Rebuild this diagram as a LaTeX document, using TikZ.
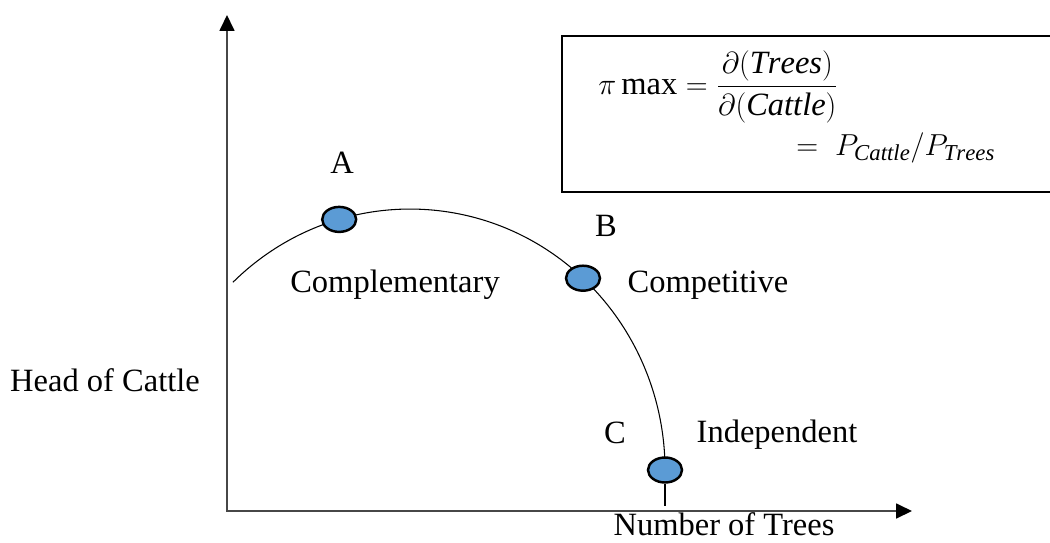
\documentclass[tikz,border=0pt]{standalone}
\usepackage{amsmath}
\usepackage{fontspec}
\setmainfont{Liberation Serif}
\usetikzlibrary{arrows.meta,shapes.geometric}
\definecolor{dotblue}{HTML}{5B9BD5}

\begin{document}
\begin{tikzpicture}[
  x=0.02cm, y=0.02cm,
  font=\fontsize{18.5}{22}\selectfont,
  axis/.style={draw=black!72, line width=1pt, {Triangle[length=3.2mm, width=3mm, color=black]}-{Triangle[length=3.2mm, width=3mm, color=black]}},
  curve/.style={draw=black, line width=0.6pt},
  dot/.style={ellipse, draw=black, line width=1.4pt, fill=dotblue, minimum width=6.8mm, minimum height=5mm, inner sep=0pt},
  lbl/.style={inner sep=0pt},
  eq/.style={inner sep=0pt},
  frame/.style={draw=black, line width=1pt},
]
\clip (0,0) rectangle (1050,542);

% ---------------- axes ----------------
\coordinate (origin) at (227,31);
\coordinate (ytip) at (227,527);
\coordinate (xtip) at (912,31);
\draw[axis] (ytip) -- (origin) -- (xtip);
\node[lbl] (ycap) at (105,162) {Head of Cattle};
\node[lbl] (xcap) at (724,18) {Number of Trees};

% ---------------- frontier ----------------
\draw[curve] (232.9,259.7) arc[start angle=134, end angle=0, x radius=255, y radius=261];
\coordinate (cfoot) at (665,36);
\node[dot] (dotA) at (339.2,322.6) {};
\node[dot] (dotB) at (583,263.8) {};
\node[dot] (dotC) at (665,72) {};
\draw[curve] (dotC) -- (cfoot);

% ---------------- labels ----------------
\node[lbl] (labA) at (342,379) {A};
\node[lbl] (labB) at (606,316) {B};
\node[lbl] (labC) at (615,109) {C};
\node[lbl] (comp) at (395,257) {Complementary};
\node[lbl] (compet) at (708,257) {Competitive};
\node[lbl] (indep) at (777,107) {Independent};

% ---------------- formula box ----------------
\draw[frame] (562,350) rectangle (1070,506);
\node[eq, anchor=west] (eqtop) at (598,455) {$\pi\max = \dfrac{\partial(\mathit{Trees})}{\partial(\mathit{Cattle})}$};
\node[eq, anchor=west] (eqbot) at (796,394) {$=\; P_{\mathit{Cattle}}/P_{\mathit{Trees}}$};

\end{tikzpicture}
\end{document}
